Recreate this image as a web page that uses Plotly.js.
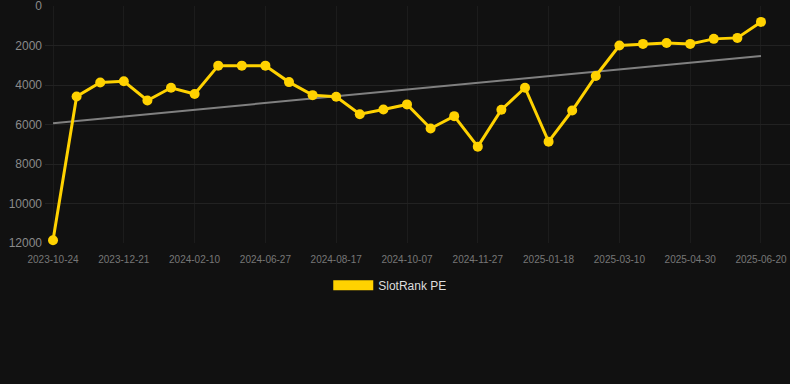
<!DOCTYPE html>
<html>
<head>
<meta charset="utf-8">
<script src="https://cdn.plot.ly/plotly-3.0.1.min.js"></script>
<style>
html,body{margin:0;padding:0;background:#111111;}
#chart{width:790px;height:384px;}
</style>
</head>
<body>
<div id="chart"></div>
<script>
var dates = ["2023-10-24","2023-11-12","2023-12-02","2023-12-21","2024-01-08","2024-01-25",
  "2024-02-10","2024-03-26","2024-05-12","2024-06-27","2024-07-14","2024-07-31",
  "2024-08-17","2024-09-03","2024-09-20","2024-10-07","2024-10-24","2024-11-10",
  "2024-11-27","2024-12-14","2024-12-31","2025-01-18","2025-02-04","2025-02-21",
  "2025-03-10","2025-03-27","2025-04-13","2025-04-30","2025-05-17","2025-06-03","2025-06-20"];
var rankPE = [11860,4575,3870,3810,4780,4135,4450,3017,3017,3017,3850,4510,4590,5475,5235,4980,
  6200,5575,7120,5250,4135,6865,5290,3540,2000,1915,1865,1915,1660,1610,800];
var trendDates = ["2023-10-24","2025-06-20"];
var trendValues = [5930,2525];
var tickDates = ["2023-10-24","2023-12-21","2024-02-10","2024-06-27","2024-08-17","2024-10-07",
  "2024-11-27","2025-01-18","2025-03-10","2025-04-30","2025-06-20"];
var yTicks = [0,2000,4000,6000,8000,10000,12000];
var yTickText = ["0","2000","4000","6000","8000","10000","12000"];
var seriesName = "SlotRank PE";

var yellow = "#FFD200";
var traces = [
  {x: trendDates, y: trendValues, type: "scatter", mode: "lines",
   line: {color: "#808080", width: 2}, showlegend: false, hoverinfo: "skip"},
  {x: dates, y: rankPE, type: "scatter", mode: "lines+markers", name: seriesName,
   line: {color: yellow, width: 3}, marker: {color: yellow, size: 10}, showlegend: false,
   cliponaxis: false},
  {x: [null], y: [null], type: "scatter", mode: "lines", name: seriesName,
   line: {color: yellow, width: 11}, showlegend: true}
];
var layout = {
  width: 790, height: 384,
  paper_bgcolor: "#111111", plot_bgcolor: "#111111",
  margin: {l: 45, r: 0, t: 6, b: 141},
  font: {family: "Liberation Sans, Arial, sans-serif", color: "#888"},
  xaxis: {type: "category", categoryorder: "array", categoryarray: dates,
    range: [-0.34, 31.23], tickvals: tickDates, ticktext: tickDates,
    tickfont: {size: 10, color: "#777"}, showgrid: true, gridcolor: "#1c1c1c",
    zeroline: false, showline: false, ticks: "", tickangle: 0, ticklabelstandoff: 9},
  yaxis: {range: [12000, -5], tickvals: yTicks, ticktext: yTickText,
    tickfont: {size: 12, color: "#8a8a8a"}, showgrid: true, gridcolor: "#222222",
    zeroline: false, showline: false, ticks: "", ticklabelstandoff: 2,
    ticklabeloverflow: "allow"},
  showlegend: true,
  legend: {orientation: "h", x: 0.494, xanchor: "center", xref: "container",
    y: 0.295, yanchor: "top", yref: "container", itemwidth: 40,
    font: {size: 12, color: "#dddddd"}, bgcolor: "rgba(0,0,0,0)"}
};
Plotly.newPlot("chart", traces, layout, {displayModeBar: false, staticPlot: true});
</script>
</body>
</html>
